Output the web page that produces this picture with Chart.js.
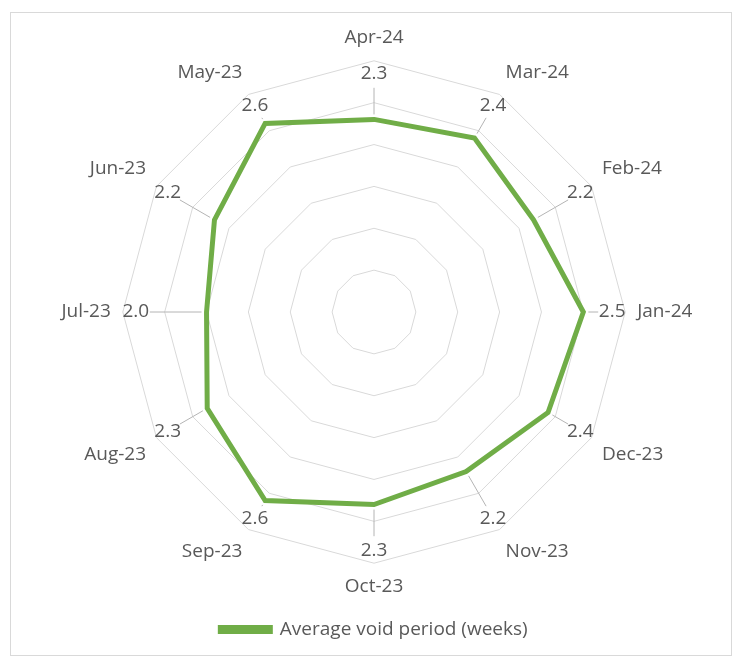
<!DOCTYPE html>
<html>
<head>
    <title>Average void period</title>
    <script src="https://cdn.jsdelivr.net/npm/chart.js@4/dist/chart.umd.min.js"></script>
    <style>
        body { margin: 0; background: #fff; }
        #frame {
            position: absolute; left: 10px; top: 12px;
            width: 720px; height: 642px;
            border: 1px solid #d9d9d9;
        }
        #radarCanvas { position: absolute; left: 0; top: 0; }
    </style>
</head>
<body>
<div id="frame"></div>
<canvas id="radarCanvas" width="734" height="658"></canvas>
<script>

// months run clockwise from the top, newest first
const months = ['Apr-24', 'Mar-24', 'Feb-24', 'Jan-24', 'Dec-23', 'Nov-23',
                'Oct-23', 'Sep-23', 'Aug-23', 'Jul-23', 'Jun-23', 'May-23'];
const voidWeeks = [2.3, 2.4, 2.2, 2.5, 2.4, 2.2, 2.3, 2.6, 2.3, 2.0, 2.2, 2.6];
const seriesName = 'Average void period (weeks)';

const textColor = '#595959';
const fontFamily = '"Open Sans", sans-serif';

// value labels sit just inside the outer ring, with a short leader back to the point
const valueLabels = {
    id: 'valueLabels',
    afterDatasetsDraw(chart) {
        const scale = chart.scales.r;
        const ctx = chart.ctx;
        const labelDist = scale.drawingArea - 13;
        ctx.save();
        ctx.font = '19px ' + fontFamily;
        ctx.fillStyle = textColor;
        ctx.textAlign = 'center';
        ctx.textBaseline = 'middle';
        ctx.strokeStyle = '#b4b4b4';
        ctx.lineWidth = 1;
        voidWeeks.forEach((v, i) => {
            const r = scale.getDistanceFromCenterForValue(v);
            if (labelDist - 14 > r + 5) {
                const a = scale.getPointPosition(i, r + 5);
                const b = scale.getPointPosition(i, labelDist - 14);
                ctx.beginPath();
                ctx.moveTo(a.x, a.y);
                ctx.lineTo(b.x, b.y);
                ctx.stroke();
            }
            const p = scale.getPointPosition(i, labelDist);
            ctx.fillText(v.toFixed(1), p.x, p.y);
        });
        ctx.restore();
    }
};

const ctx = document.getElementById('radarCanvas').getContext('2d');
new Chart(ctx, {
    type: 'radar',
    data: {
        labels: months,
        datasets: [{
            label: seriesName,
            data: voidWeeks,
            borderColor: '#70ad47',
            backgroundColor: '#70ad47',
            borderWidth: 5,
            fill: false,
            pointRadius: 0,
            pointHoverRadius: 0,
        }],
    },
    options: {
        responsive: false,
        animation: false,
        layout: { padding: { top: 26, left: 14, right: 0, bottom: 9 } },
        plugins: {
            legend: {
                position: 'bottom',
                labels: {
                    boxWidth: 50,
                    boxHeight: 4,
                    padding: 22,
                    color: textColor,
                    font: { family: fontFamily, size: 19 },
                },
            },
            tooltip: { enabled: false },
        },
        scales: {
            r: {
                min: 0,
                max: 3,
                ticks: { stepSize: 0.5, display: false },
                angleLines: { display: false },
                grid: { color: '#d9d9d9', lineWidth: 1 },
                pointLabels: {
                    padding: 12,
                    color: textColor,
                    font: { family: fontFamily, size: 19 },
                },
            },
        },
    },
    plugins: [valueLabels],
});

</script>
</body>
</html>
